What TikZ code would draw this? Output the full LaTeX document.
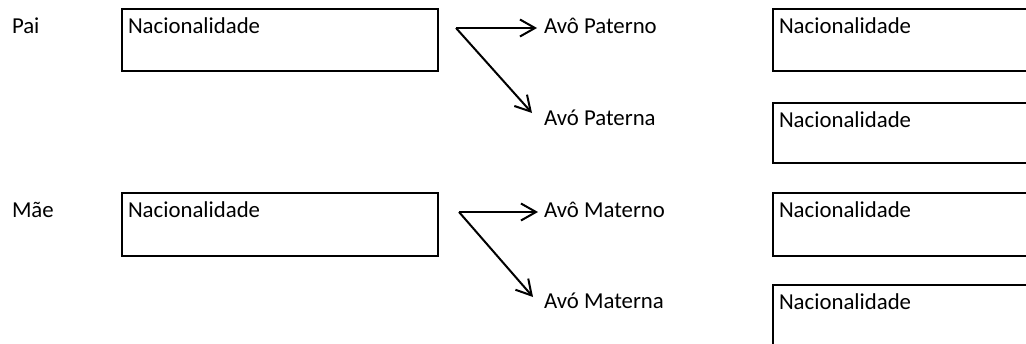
\documentclass[tikz,border=0pt]{standalone}
\usepackage{fontspec}
\setmainfont{Carlito}
\usetikzlibrary{arrows.meta,calc}
\begin{document}
\begin{tikzpicture}[x=0.5pt,y=-0.5pt,
  every node/.style={font=\fontsize{11.4}{13.7}\selectfont, inner sep=0pt, outer sep=0pt},
  txt/.style={anchor=base west},
  natl/.style={anchor=base west, inner sep=0pt, xshift=3pt, yshift=-12pt},
  edge/.style={line width=1.4pt},
  box/.style={edge, anchor=north west, minimum height=31pt,
     label={[natl]north west:Nacionalidade}},
  lbox/.style={box, draw, minimum width=158pt},
  rbox/.style={box, minimum width=150pt},
  arr/.style={line width=1pt, -{Straight Barb[length=7.5pt,width=8.5pt,line width=1pt]}}]
\useasboundingbox (0,0) rectangle (1026,343);
\fill[white] (0,0) rectangle (1026,343);
\clip (0,0) rectangle (1026,343);
% left column
\node[txt] (pai) at (12,33) {Pai};
\node[txt] (mae) at (12,217) {Mãe};
\node[lbox] (b1) at (122,9) {};
\node[lbox, minimum height=31.5pt] (b2) at (122,193) {};
% grandparents labels
\node[txt] (avp) at (544,33) {Avô Paterno};
\node[txt] (avpa) at (544,125) {Avó Paterna};
\node[txt] (avm) at (544,217) {Avô Materno};
\node[txt] (avma) at (544,308) {Avó Materna};
% right column boxes (cut off by the picture's right edge)
\node[rbox] (r1) at (773,9) {};
\node[rbox, minimum height=30pt] (r2) at (773,103) {};
\node[rbox, minimum height=31.5pt] (r3) at (773,193) {};
\node[rbox] (r4) at (773,285) {};
\foreach \r in {r1,r2,r3,r4}
  \draw[edge] (\r.north east) -- (\r.north west) -- (\r.south west) -- (\r.south east);
% forks
\coordinate (f1) at (456,28);
\coordinate (f2) at (459,212);
\draw[arr] (f1) -- ($(avp.base west)+(-7,-5)$);
\draw[arr] (f1) -- ($(avpa.base west)+(-12,-12)$);
\draw[arr] (f2) -- ($(avm.base west)+(-6,-5)$);
\draw[arr] (f2) -- ($(avma.base west)+(-11,-11)$);
\end{tikzpicture}
\end{document}
